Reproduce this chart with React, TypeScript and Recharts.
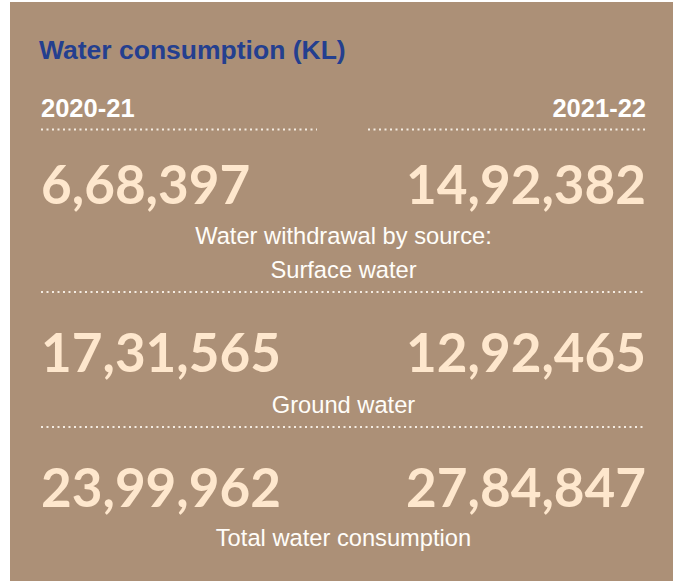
import { ScatterChart, Scatter, XAxis, YAxis } from "recharts"

const years = ["2020-21", "2021-22"]
const metrics = ["Surface water", "Ground water", "Total water consumption"]
const metricLabels = [["Water withdrawal by source:", "Surface water"], ["Ground water"], ["Total water consumption"]]
const fy2021 = [668397, 1731565, 2399962]
const fy2022 = [1492382, 1292465, 2784847]

const BG = "#ac9077"
const CREAM = "#fee7cd"
const SANS = "'Liberation Sans', Arial, Helvetica, sans-serif"

// indian digit grouping: 14,92,382
const formatIN = (n: number) => {
  const s = String(n)
  const last3 = s.slice(-3)
  let rest = s.slice(0, -3)
  const parts: string[] = []
  while (rest.length > 2) {
    parts.unshift(rest.slice(-2))
    rest = rest.slice(0, -2)
  }
  if (rest) parts.unshift(rest)
  return parts.length ? parts.join(",") + "," + last3 : last3
}

const YearTick = (p: any) => (
  <text
    x={p.x}
    y={p.y - 15}
    textAnchor={p.payload.value === years[0] ? "start" : "end"}
    fill="#ffffff"
    fontSize={25.5}
    fontWeight={700}
    fontFamily={SANS}
  >
    {p.payload.value}
  </text>
)

const NumberMark = (p: any) => (
  <text
    x={p.cx}
    y={p.cy}
    dy={19}
    textAnchor={p.payload.year === years[0] ? "start" : "end"}
    fill={CREAM}
    fontSize={53}
    fontWeight={700}
    fontFamily="Lato, 'Open Sans', sans-serif"
  >
    {formatIN(p.payload.value)}
  </text>
)

function RowChart({ i, top, height, showYears }: { i: number; top: number; height: number; showYears: boolean }) {
  const data = years.map((y, k) => ({
    year: y,
    metric: metrics[i],
    value: k === 0 ? fy2021[i] : fy2022[i],
  }))
  return (
    <div style={{ position: "absolute", left: 0, top }}>
      <ScatterChart width={663} height={height} margin={{ top: 0, right: 27, bottom: 0, left: 31 }}>
        <XAxis
          dataKey="year"
          type="category"
          scale="point"
          allowDuplicatedCategory={false}
          orientation="top"
          hide={!showYears}
          height={50}
          axisLine={false}
          tickLine={false}
          tickSize={0}
          tickMargin={0}
          interval={0}
          tick={(p: any) => <YearTick {...p} />}
        />
        <YAxis dataKey="metric" type="category" allowDuplicatedCategory={false} hide />
        <Scatter data={data} isAnimationActive={false} shape={(p: any) => <NumberMark {...p} />} />
      </ScatterChart>
    </div>
  )
}

const dotLine = { stroke: "#f4ece2", strokeWidth: 2, strokeDasharray: "2 3.5" }

export default function App() {
  const labelTops = [[222, 256], [391], [524]]
  return (
    <div
      style={{
        position: "fixed",
        left: 10,
        top: 2,
        width: 663,
        height: 579,
        background: BG,
        overflow: "hidden",
        fontFamily: SANS,
      }}
    >
      <div
        style={{
          position: "absolute",
          left: 29,
          top: 35,
          fontSize: 26.5,
          lineHeight: "26px",
          fontWeight: 700,
          color: "#243f8f",
          whiteSpace: "nowrap",
        }}
      >
        Water consumption (KL)
      </div>

      <svg width={663} height={579} style={{ position: "absolute", left: 0, top: 0 }}>
        <line x1={31} x2={307} y1={127.5} y2={127.5} {...dotLine} />
        <line x1={358} x2={636} y1={127.5} y2={127.5} {...dotLine} />
        <line x1={31} x2={636} y1={290} y2={290} {...dotLine} />
        <line x1={31} x2={636} y1={425} y2={425} {...dotLine} />
      </svg>

      <RowChart i={0} top={80} height={155} showYears />
      <RowChart i={1} top={300.5} height={100} showYears={false} />
      <RowChart i={2} top={435.5} height={100} showYears={false} />

      {metricLabels.map((lines, i) =>
        lines.map((t, j) => (
          <div
            key={`${i}-${j}`}
            style={{
              position: "absolute",
              left: 31,
              width: 605,
              top: labelTops[i][j],
              textAlign: "center",
              fontSize: 23.7,
              lineHeight: "24px",
              color: "#fffdf9",
              whiteSpace: "nowrap",
            }}
          >
            {t}
          </div>
        ))
      )}
    </div>
  )
}
